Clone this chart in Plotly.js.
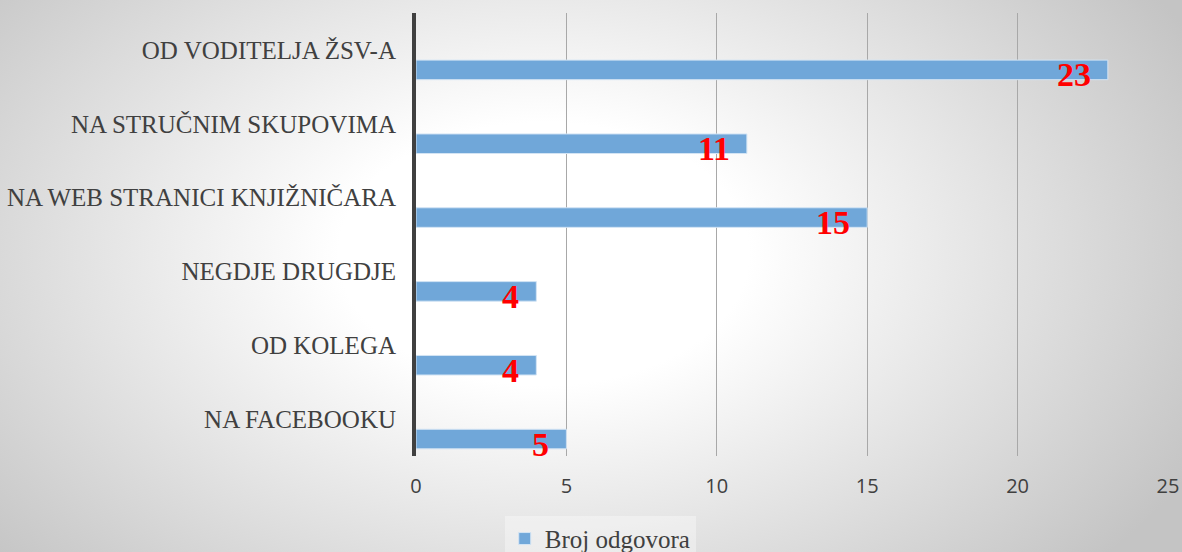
<!DOCTYPE html>
<html>
<head>
<meta charset="utf-8">
<script src="https://cdn.plot.ly/plotly-3.0.1.min.js"></script>
<style>
  html, body { margin: 0; padding: 0; }
  body {
    width: 1182px; height: 552px;
    background: radial-gradient(ellipse 62% 85% at 46% 46%, #ffffff 0%, #ffffff 28%, #c4c4c4 100%);
  }
  #plot { width: 1182px; height: 552px; }
</style>
</head>
<body>
<div id="plot"></div>
<script>
// categories, top to bottom as in the picture
var categories = [
  "OD VODITELJA ŽSV-A",
  "NA STRUČNIM SKUPOVIMA",
  "NA WEB STRANICI KNJIŽNIČARA",
  "NEGDJE DRUGDJE",
  "OD KOLEGA",
  "NA FACEBOOKU"
];
var answers = [23, 11, 15, 4, 4, 5];
var xTicks = [0, 5, 10, 15, 20, 25];

var trace = {
  type: "bar",
  orientation: "h",
  y: categories,
  x: answers,
  name: "Broj odgovora",
  width: 0.265,
  offset: 0.138,
  marker: {
    color: "#70a7d9",
    line: { color: "#d3e4f4", width: 1 }
  },
  hoverinfo: "x+y"
};

// red value labels near the bar ends
var labels = answers.map(function (v, i) {
  return {
    x: v,
    y: categories[i],
    xref: "x",
    yref: "y",
    text: String(v),
    showarrow: false,
    xanchor: "right",
    yanchor: "middle",
    xshift: -15,
    yshift: -25,
    font: { family: "Liberation Serif", size: 34, color: "#ff0000", weight: "bold" }
  };
});

var layout = {
  width: 1182,
  height: 552,
  margin: { l: 416, r: 14, t: 13, b: 96, autoexpand: false },
  paper_bgcolor: "rgba(0,0,0,0)",
  plot_bgcolor: "rgba(0,0,0,0)",
  showlegend: true,
  legend: {
    orientation: "h",
    x: 0.245,
    xanchor: "center",
    y: -0.135,
    yanchor: "top",
    bgcolor: "rgba(255,255,255,0.35)",
    font: { family: "Liberation Serif", size: 25, color: "#404040" }
  },
  xaxis: {
    range: [0, 25],
    tickvals: xTicks,
    showgrid: true,
    gridcolor: "#a8a8a8",
    gridwidth: 1,
    zeroline: false,
    showline: false,
    ticks: "",
    ticklabelstandoff: 16,
    tickfont: { family: "Open Sans", size: 20, color: "#404040" }
  },
  yaxis: {
    type: "category",
    range: [5.5, -0.5],
    showgrid: false,
    zeroline: false,
    showline: true,
    linecolor: "#404040",
    linewidth: 4,
    ticks: "",
    ticklabelstandoff: 11,
    tickfont: { family: "Liberation Serif", size: 25, color: "#404040" }
  },
  annotations: labels
};

Plotly.newPlot("plot", [trace], layout, { displayModeBar: false, staticPlot: true });
</script>
</body>
</html>
